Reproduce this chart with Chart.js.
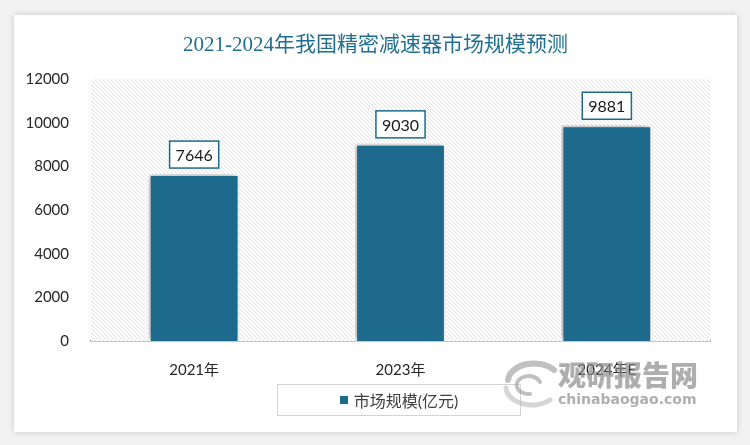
<!DOCTYPE html>
<html lang="zh">
<head>
  <meta charset="UTF-8">
  <title>精密减速器市场规模预测</title>
  <script src="https://cdn.jsdelivr.net/npm/chart.js"></script>
  <style>
    body {
      margin: 0;
      width: 750px;
      height: 445px;
      background-color: #f2f2f2;
      position: relative;
      overflow: hidden;
      font-family: Lato, "Noto Sans CJK SC", sans-serif;
    }
    .card {
      position: absolute;
      left: 14px;
      top: 15px;
      width: 723px;
      height: 417px;
      background: #fff;
      box-shadow: 0 0 6px rgba(0, 0, 0, 0.18);
    }
    .legend {
      position: absolute;
      left: 277px;
      top: 384px;
      width: 242px;
      height: 30px;
      border: 1px solid #d4d4d4;
      display: flex;
      align-items: center;
      justify-content: center;
      font-size: 16px;
      color: #404040;
    }
    .legend span.box {
      width: 8px;
      height: 8px;
      background: #1d6a8c;
      margin-right: 6px;
    }
    .mark {
      position: absolute;
      left: 558px;
      top: 356px;
      color: rgba(140, 140, 140, 0.7);
      font-family: "Noto Sans CJK SC", sans-serif;
    }
    .mark .cn { font-size: 28px; font-weight: 900; line-height: 36px; }
    .mark .en { font-size: 14px; font-weight: 700; font-family: "DejaVu Sans", sans-serif; margin-top: -1px; }
    .logo { position: absolute; left: 500px; top: 360px; }
  </style>
</head>
<body>
  <div class="card">
    <canvas id="chart1" width="723" height="417"></canvas>
  </div>
  <div class="legend" id="legend"></div>
  <svg class="logo" width="60" height="50" viewBox="0 0 60 50">
    <g fill="none" stroke="rgba(150,150,150,0.6)" stroke-linecap="round">
      <path d="M54 10 A26 18 0 0 0 8 20" stroke-width="6"/>
      <path d="M6 28 A26 18 0 0 0 50 40" stroke-width="5" stroke="rgba(180,180,180,0.55)"/>
      <path d="M40 22 A12 9 0 1 0 30 34" stroke-width="4"/>
    </g>
  </svg>
  <div class="mark"><div class="cn">观研报告网</div><div class="en">chinabaogao.com</div></div>

  <script>
    const titleText = '2021-2024年我国精密减速器市场规模预测';
    const years = ['2021年', '2023年', '2024年E'];
    const marketSize = [7646, 9030, 9881];
    const seriesName = '市场规模(亿元)';

    const barColor = '#1d6a8c';

    document.getElementById('legend').innerHTML =
      '<span class="box"></span>' + seriesName;

    // diagonal hatch for plot background
    function makeHatch(ctx) {
      const c = document.createElement('canvas');
      c.width = 4; c.height = 4;
      const p = c.getContext('2d');
      p.fillStyle = '#fff';
      p.fillRect(0, 0, 4, 4);
      p.strokeStyle = '#e2e2e2';
      p.lineWidth = 1;
      p.beginPath();
      p.moveTo(0, 0); p.lineTo(4, 4);
      p.moveTo(-1, 3); p.lineTo(1, 5);
      p.moveTo(3, -1); p.lineTo(5, 1);
      p.stroke();
      return ctx.createPattern(c, 'repeat');
    }

    const hatchPlugin = {
      id: 'hatch',
      beforeDatasetsDraw(chart) {
        const { ctx, chartArea: a } = chart;
        ctx.save();
        ctx.fillStyle = makeHatch(ctx);
        ctx.fillRect(a.left, a.top, a.right - a.left, a.bottom - a.top);
        ctx.restore();
        ctx.save();
        ctx.shadowColor = 'rgba(0,0,0,0.35)';
        ctx.shadowBlur = 6;
        ctx.shadowOffsetX = -2;
        ctx.shadowOffsetY = -1;
      },
      afterDatasetsDraw(chart) {
        const { ctx } = chart;
        ctx.restore();
        // value labels in boxes
        const meta = chart.getDatasetMeta(0);
        ctx.save();
        ctx.font = '16px Lato, sans-serif';
        ctx.textAlign = 'center';
        ctx.textBaseline = 'middle';
        meta.data.forEach((bar, i) => {
          const txt = String(chart.data.datasets[0].data[i]);
          const w = ctx.measureText(txt).width + 12;
          const h = 27;
          const x = bar.x - w / 2;
          const y = bar.y - 6 - h;
          ctx.fillStyle = '#fff';
          ctx.fillRect(x, y, w, h);
          ctx.strokeStyle = barColor;
          ctx.lineWidth = 1.5;
          ctx.strokeRect(x, y, w, h);
          ctx.fillStyle = '#1a1a1a';
          ctx.fillText(txt, bar.x, y + h / 2 + 1);
        });
        ctx.restore();
      },
      afterDraw(chart) {
        // title centred on the whole card
        const { ctx, width } = chart;
        ctx.save();
        ctx.font = '21px "Liberation Serif", "Noto Sans CJK SC", serif';
        ctx.fillStyle = '#1f6f93';
        ctx.textAlign = 'center';
        ctx.textBaseline = 'middle';
        ctx.fillText(titleText, width / 2, 30);
        ctx.restore();
      }
    };

    new Chart(document.getElementById('chart1'), {
      type: 'bar',
      data: {
        labels: years,
        datasets: [{
          label: seriesName,
          data: marketSize,
          backgroundColor: barColor,
          borderColor: '#ffffff',
          borderWidth: 2,
          categoryPercentage: 1,
          barPercentage: 0.44
        }]
      },
      options: {
        responsive: false,
        animation: false,
        layout: { padding: { left: 0, right: 27, top: 64, bottom: 51 } },
        plugins: {
          legend: { display: false },
          tooltip: { enabled: false },
          title: { display: false }
        },
        scales: {
          y: {
            min: 0,
            max: 12000,
            ticks: {
              stepSize: 2000,
              color: '#262626',
              padding: 14,
              font: { family: 'Lato', size: 15 },
              callback: v => String(v)
            },
            grid: { display: false },
            border: { display: false },
            afterFit(s) { s.width = 77; }
          },
          x: {
            ticks: { color: '#262626', padding: 12, font: { family: 'Lato, "Noto Sans CJK SC"', size: 15 } },
            grid: { display: false },
            border: { display: true, color: '#8c8c8c', width: 1.5 },
            afterFit(s) { s.height = 40; }
          }
        }
      },
      plugins: [hatchPlugin]
    });
  </script>
</body>
</html>
